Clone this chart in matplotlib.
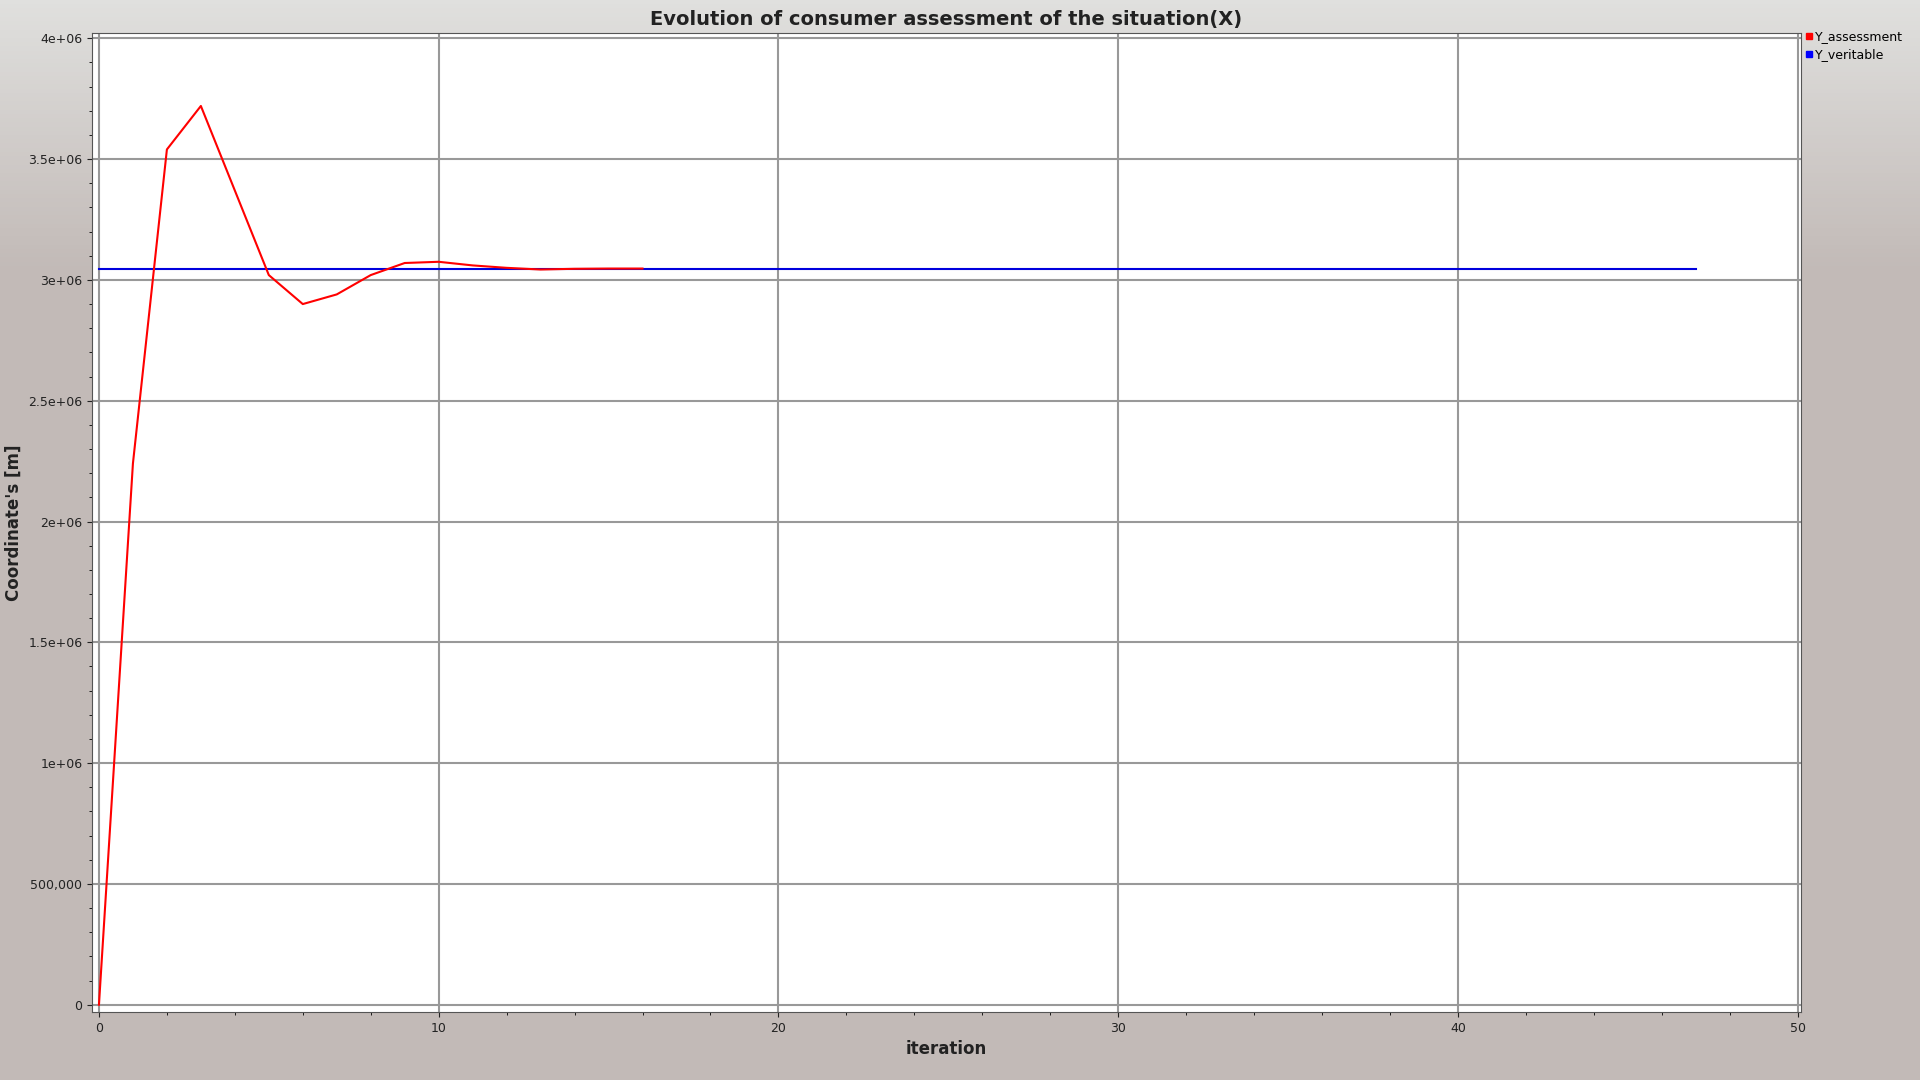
import matplotlib
matplotlib.use("Agg")
import matplotlib.pyplot as plt
import numpy as np
from matplotlib.ticker import MultipleLocator
from matplotlib.lines import Line2D

x_assess = [0, 1, 2, 3, 4, 5, 6, 7, 8, 9, 10, 11, 12, 13, 14, 15, 16]
y_assess = [0, 2.24e6, 3.54e6, 3.72e6, 3.37e6, 3.02e6, 2.90e6, 2.94e6, 3.02e6,
            3.07e6, 3.075e6, 3.06e6, 3.05e6, 3.043e6, 3.046e6, 3.047e6, 3.047e6]
x_ver = [0, 47]
y_ver = [3.047e6, 3.047e6]
y_ticks = [0, 5e5, 1e6, 1.5e6, 2e6, 2.5e6, 3e6, 3.5e6, 4e6]
y_labels = ["0", "500,000", "1e+06", "1.5e+06", "2e+06", "2.5e+06", "3e+06", "3.5e+06", "4e+06"]

fig = plt.figure(figsize=(19.2, 10.8), dpi=100)
bg = fig.add_axes([0, 0, 1, 1], zorder=-10)
grad = np.linspace(0, 1, 256).reshape(-1, 1)
c_top = np.array([0xe0, 0xe0, 0xde]) / 255
c_bot = np.array([0xc2, 0xba, 0xb7]) / 255
t = np.clip(grad / 0.25, 0, 1)
img = c_top + (c_bot - c_top) * t[..., None]
bg.imshow(img, aspect="auto", extent=[0, 1, 0, 1])
bg.axis("off")

ax = fig.add_axes([0.048, 0.063, 0.890, 0.906])
ax.plot(x_ver, y_ver, color="#0000dd", lw=1.5, zorder=3)
ax.plot(x_assess, y_assess, color="red", lw=1.5, zorder=4)
ax.set_xlim(-0.2, 50.1)
ax.set_ylim(-0.03e6, 4.02e6)
ax.set_xticks([0, 10, 20, 30, 40, 50])
ax.xaxis.set_minor_locator(MultipleLocator(2))
ax.set_yticks(y_ticks)
ax.set_yticklabels(y_labels)
ax.yaxis.set_minor_locator(MultipleLocator(1e5))
ax.tick_params(labelsize=9, colors="#222222", direction="out")
ax.grid(True, color="#999999", lw=1.5)
for s in ax.spines.values():
    s.set_color("#555555")
ax.set_xlabel("iteration", fontsize=12, fontweight="bold", color="#222222")
ax.set_ylabel("Coordinate's [m]", fontsize=12, fontweight="bold", color="#222222")
ax.set_title("Evolution of consumer assessment of the situation(X)", fontsize=14,
             fontweight="bold", color="#222222", pad=6)

handles = [Line2D([], [], marker="s", ls="", color="red", markersize=5),
           Line2D([], [], marker="s", ls="", color="#0000ff", markersize=5)]
fig.legend(handles, ["Y_assessment", "Y_veritable"], loc="upper left",
           bbox_to_anchor=(0.939, 0.972), frameon=False, fontsize=9,
           handletextpad=0.0, handlelength=1.0, labelspacing=0.4, borderaxespad=0,
           borderpad=0)
fig.savefig("out.png", dpi=100)
